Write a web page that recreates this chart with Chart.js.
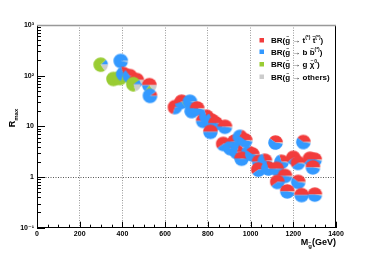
<!DOCTYPE html>
<html>
<head>
<meta charset="utf-8">
<script src="https://cdn.jsdelivr.net/npm/chart.js@4.4.1/dist/chart.umd.min.js"></script>
<style>
  html, body { margin: 0; padding: 0; background: #fff; }
  #chart { display: block; }
</style>
</head>
<body>
<canvas id="chart" width="374" height="253"></canvas>
<script>
// gluino mass (GeV) and R_max for every model point
const massGeV = [298, 392, 358, 388, 404, 435, 467, 451, 526, 529,
                 646, 677, 716, 724, 750, 778, 794, 818, 836, 880, 812,
                 872, 905, 925, 950, 975, 935, 989, 958, 1008,
                 1040, 1067, 1036, 1083, 1117, 1247, 1145, 1122, 1200, 1222,
                 1278, 1300, 1292, 1161, 1125, 1223, 1172, 1239, 1301];
const rMax = [165, 195, 86, 90, 108, 98, 82, 68, 65, 40,
              24, 30.6, 30.6, 20, 22.6, 12.8, 15.5, 13, 11.5, 9.8, 7.8,
              4.5, 3.7, 5.0, 6.2, 5.3, 3.1, 3.0, 2.3, 2.8,
              2.0, 2.1, 1.4, 1.48, 4.8, 4.9, 2.0, 1.45, 2.4, 1.9,
              2.3, 2.2, 1.55, 1.05, 0.8, 0.8, 0.52, 0.44, 0.45];

// branching ratios (pie slices)
const brTop = [0, 0, 0, .02, .3, .35, .65, 0, .5, .1,
               .7, .55, 0, .15, .5, .5, .3, .3, .5, .5, .5,
               .6, .3, .5, .2, .4, .2, .2, .5, .4,
               .5, .3, .6, .3, .4, .4, .3, .5, .6, .6,
               .6, .5, .5, .5, .6, .4, .5, .5, .5];
const brBottom = [.12, .98, 0, 0, .4, .62, .25, .1, .15, .9,
                  .3, .3, .98, .83, .48, .5, .68, .68, .48, .48, .5,
                  .4, .68, .5, .78, .58, .78, .8, .5, .58,
                  .5, .68, .4, .68, .58, .58, .68, .5, .38, .38,
                  .4, .48, .48, .48, .4, .58, .48, .5, .48];
const brGluon = [.73, 0, .98, .93, .25, 0, 0, .7, .2, 0,
                 0, .12, 0, 0, 0, 0, 0, 0, 0, 0, 0,
                 0, 0, 0, 0, 0, 0, 0, 0, 0,
                 0, 0, 0, 0, 0, 0, 0, 0, 0, 0,
                 0, 0, 0, 0, 0, 0, 0, 0, 0];
const brOther = [.15, .02, .02, .05, .05, .03, .1, .2, .15, 0,
                 0, .03, .02, .02, .02, 0, .02, .02, .02, .02, 0,
                 0, .02, 0, .02, .02, .02, 0, 0, .02,
                 0, .02, 0, .02, .02, .02, .02, 0, .02, .02,
                 0, .02, .02, .02, 0, .02, .02, 0, .02];

const xTicks = [0, 200, 400, 600, 800, 1000, 1200, 1400];
const yTicks = [0.1, 1, 10, 100, 1000];
const yTickLabels = ['10\u207B\u00B9', '1', '10', '10\u00B2', '10\u00B3'];

const pieColors = ['#f23c3c', '#3399ff', '#99cc33', '#cccccc'];
// legend pieces: [text, kind]  kind: n = normal, s = superscript, t = tilde over, b = bar over
const legendLabels = [
  [['BR(', 'n'], ['g', 't'], [' \u2192 ', 'n'], ['t', 'n'], ['(*)', 's'], [' ', 'n'], ['t', 'b'], ['(*)', 's'], [')', 'n']],
  [['BR(', 'n'], ['g', 't'], [' \u2192 b ', 'n'], ['b', 'b'], ['(*)', 's'], [')', 'n']],
  [['BR(', 'n'], ['g', 't'], [' \u2192 g ', 'n'], ['\u03C7', 't'], ['0', 's'], [')', 'n']],
  [['BR(', 'n'], ['g', 't'], [' \u2192 others)', 'n']]
];

const FONT = 'Liberation Sans, Arial, DejaVu Sans, sans-serif';
const PIE_R = 7.3;

// one small pie per point, used as its point style
function makePie(i) {
  const size = Math.ceil(PIE_R * 2) + 2;
  const c0 = size / 2;
  const cv = document.createElement('canvas');
  cv.width = size; cv.height = size;
  const g = cv.getContext('2d');
  const parts = [brTop[i], brBottom[i], brGluon[i], brOther[i]];
  const total = parts.reduce((a, b) => a + b, 0);
  let a0 = 0;
  parts.forEach((f, k) => {
    if (f <= 0) return;
    const a1 = a0 - 2 * Math.PI * f / total;
    g.beginPath();
    g.moveTo(c0, c0);
    g.arc(c0, c0, PIE_R, a0, a1, true);
    g.closePath();
    g.fillStyle = pieColors[k];
    g.fill();
    a0 = a1;
  });
  return cv;
}
const pies = massGeV.map((m, i) => makePie(i));

// write a run of text pieces, returns the end x
function drawPieces(ctx, parts, x, y, size) {
  parts.forEach(([t, kind]) => {
    const fs = kind === 's' ? size * 0.62 : size;
    ctx.font = 'bold ' + fs + 'px ' + FONT;
    const w = ctx.measureText(t).width;
    ctx.fillText(t, x, kind === 's' ? y - size * 0.45 : y);
    if (kind === 't' || kind === 'b') {
      ctx.font = 'bold ' + (size * 0.62) + 'px ' + FONT;
      const mark = kind === 't' ? '~' : '\u2012';
      const mw = ctx.measureText(mark).width;
      ctx.fillText(mark, x + (w - mw) / 2, y - size * 0.62);
    }
    x += w;
  });
  return x;
}

// ticks inside the frame, frame lines, axis titles and legend
const decorations = {
  id: 'decorations',
  afterDraw(c) {
    const ctx = c.ctx;
    const a = c.chartArea;
    const xs = c.scales.x, ys = c.scales.y;
    ctx.save();
    ctx.strokeStyle = '#000';
    ctx.lineWidth = 1;
    ctx.beginPath();
    for (let v = 0; v <= 1400; v += 50) {
      const px = Math.round(xs.getPixelForValue(v)) + 0.5;
      const len = v % 200 === 0 ? 6 : 3;
      ctx.moveTo(px, a.bottom);
      ctx.lineTo(px, a.bottom - len);
    }
    for (let n = -1; n <= 2; n++) {
      for (let k = 1; k <= 9; k++) {
        const v = k * Math.pow(10, n);
        const py = Math.round(ys.getPixelForValue(v)) + 0.5;
        ctx.moveTo(a.left, py);
        ctx.lineTo(a.left + (k === 1 ? 8 : 4), py);
      }
    }
    ctx.stroke();
    // frame
    ctx.beginPath();
    ctx.moveTo(a.right - 0.5, a.top);
    ctx.lineTo(a.right - 0.5, a.bottom);
    ctx.stroke();
    ctx.strokeStyle = '#999';
    ctx.lineWidth = 1.5;
    ctx.beginPath();
    ctx.moveTo(a.left, a.top + 0.5);
    ctx.lineTo(a.right, a.top + 0.5);
    ctx.stroke();

    ctx.fillStyle = '#000';
    ctx.textBaseline = 'alphabetic';
    // y title R_max
    ctx.save();
    ctx.translate(15, 118);
    ctx.rotate(-Math.PI / 2);
    ctx.font = 'bold 9px ' + FONT;
    const wR = ctx.measureText('R').width;
    ctx.font = 'bold 6px ' + FONT;
    const wM = ctx.measureText('max').width;
    ctx.font = 'bold 9px ' + FONT;
    ctx.fillText('R', -(wR + wM) / 2, 0);
    ctx.font = 'bold 6px ' + FONT;
    ctx.fillText('max', -(wR + wM) / 2 + wR, 2.5);
    ctx.restore();

    // x title M_g(GeV)
    ctx.font = 'bold 9px ' + FONT;
    const wG = ctx.measureText('(GeV)').width;
    const wMm = ctx.measureText('M').width;
    ctx.font = 'bold 6px ' + FONT;
    const wg = ctx.measureText('g').width;
    const tx = a.right - wG - wg - wMm;
    ctx.font = 'bold 9px ' + FONT;
    ctx.fillText('M', tx, 245);
    ctx.fillText('(GeV)', tx + wMm + wg, 245);
    ctx.font = 'bold 6px ' + FONT;
    ctx.fillText('g', tx + wMm, 248);
    ctx.font = 'bold 5px ' + FONT;
    ctx.fillText('~', tx + wMm, 244);

    // legend
    const rows = [43, 54.5, 67, 79.5];
    legendLabels.forEach((parts, i) => {
      ctx.fillStyle = pieColors[i];
      ctx.fillRect(259.5, rows[i] - 5, 4.5, 4.5);
      ctx.fillStyle = '#000';
      drawPieces(ctx, parts, 271, rows[i], 8);
    });
    ctx.restore();
  }
};

new Chart(document.getElementById('chart'), {
  type: 'scatter',
  data: {
    datasets: [{
      data: massGeV.map((m, i) => ({ x: m, y: rMax[i] })),
      pointStyle: pies,
      pointRadius: PIE_R,
      pointHoverRadius: PIE_R
    }]
  },
  options: {
    responsive: false,
    animation: false,
    devicePixelRatio: 1,
    layout: { padding: { top: 25, right: 38, left: 0, bottom: 0 } },
    plugins: { legend: { display: false }, tooltip: { enabled: false } },
    scales: {
      x: {
        type: 'linear', min: 0, max: 1400,
        afterBuildTicks: s => { s.ticks = xTicks.map(v => ({ value: v })); },
        afterFit: s => { s.height = 25.3; },
        grid: {
          drawTicks: false,
          color: ctx => (ctx.tick && ctx.tick.value > 0 && ctx.tick.value < 1400) ? '#9a9a9a' : 'rgba(0,0,0,0)',
          lineWidth: 1
        },
        border: { color: '#000', width: 1, dash: [1, 1.5] },
        ticks: {
          padding: 2, color: '#000', maxRotation: 0, autoSkip: false,
          font: { family: FONT, size: 7, weight: 'bold' },
          callback: v => String(v)
        }
      },
      y: {
        type: 'logarithmic', min: 0.1, max: 1000,
        afterBuildTicks: s => { s.ticks = yTicks.map(v => ({ value: v })); },
        afterFit: s => { s.width = 37; },
        grid: {
          drawTicks: false,
          color: ctx => (ctx.tick && ctx.tick.value === 1) ? '#555' : 'rgba(0,0,0,0)',
          lineWidth: 1
        },
        border: { color: '#000', width: 1, dash: [1, 1.5] },
        ticks: {
          padding: 3, color: '#000', autoSkip: false,
          font: { family: FONT, size: 7, weight: 'bold' },
          callback: v => yTickLabels[yTicks.indexOf(v)] || ''
        }
      }
    }
  },
  plugins: [decorations]
});
</script>
</body>
</html>
